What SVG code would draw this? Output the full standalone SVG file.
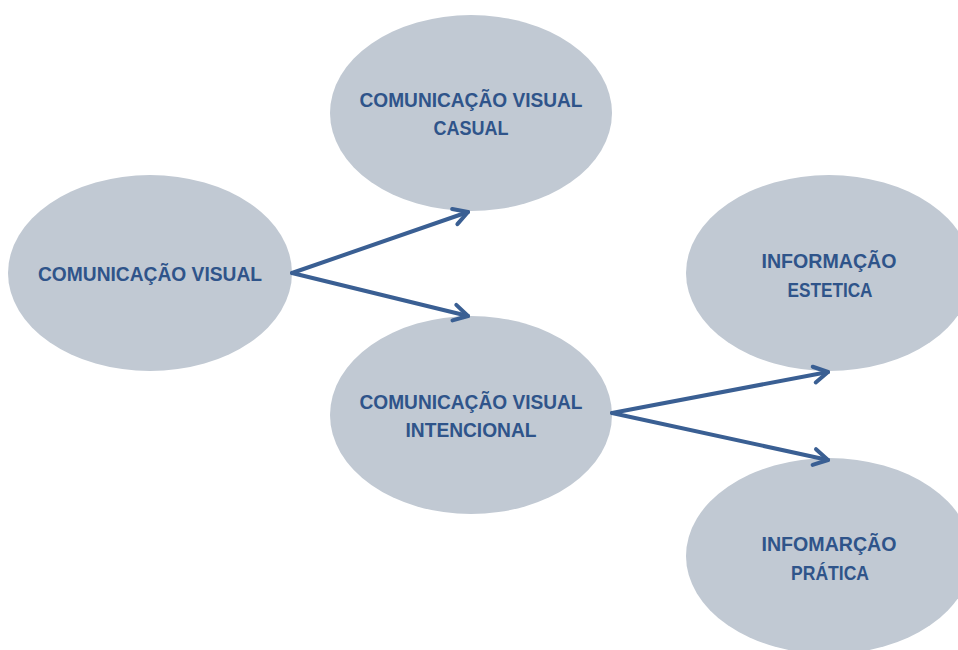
<svg xmlns="http://www.w3.org/2000/svg" width="958" height="650" viewBox="0 0 958 650">
<style>
.n{fill:#c1c9d3}
.t{font-family:"Liberation Sans",Arial,sans-serif;font-weight:bold;font-size:20px;fill:#2f548a;text-anchor:middle}
.c{stroke:#3a5f93;stroke-width:4;fill:none;stroke-linecap:round}
</style>
<defs>
<marker id="a" markerUnits="userSpaceOnUse" markerWidth="24" markerHeight="24" refX="20" refY="12" orient="auto" viewBox="0 0 24 24">
<polyline points="6,4 20,12 6,20" fill="none" stroke="#3a5f93" stroke-width="4" stroke-linecap="round" stroke-linejoin="round"/>
</marker>
</defs>
<rect width="958" height="650" fill="#fff"/>
<g id="n1"><ellipse class="n" cx="150" cy="273" rx="142" ry="98"/>
<text class="t" x="150" y="281" textLength="224" lengthAdjust="spacingAndGlyphs">COMUNICAÇÃO VISUAL</text></g>
<g id="n2"><ellipse class="n" cx="471" cy="113" rx="141" ry="98"/>
<text class="t" x="471" y="107" textLength="223" lengthAdjust="spacingAndGlyphs">COMUNICAÇÃO VISUAL</text>
<text class="t" x="471" y="135" textLength="75" lengthAdjust="spacingAndGlyphs">CASUAL</text></g>
<g id="n3"><ellipse class="n" cx="471" cy="415" rx="141" ry="99"/>
<text class="t" x="471" y="409" textLength="223" lengthAdjust="spacingAndGlyphs">COMUNICAÇÃO VISUAL</text>
<text class="t" x="471" y="437" textLength="131" lengthAdjust="spacingAndGlyphs">INTENCIONAL</text></g>
<g id="n4"><ellipse class="n" cx="829" cy="273" rx="143" ry="98"/>
<text class="t" x="829" y="268" textLength="135" lengthAdjust="spacingAndGlyphs">INFORMAÇÃO</text>
<text class="t" x="830" y="297" textLength="85" lengthAdjust="spacingAndGlyphs">ESTETICA</text></g>
<g id="n5"><ellipse class="n" cx="829" cy="556" rx="143" ry="98"/>
<text class="t" x="829" y="551" textLength="135" lengthAdjust="spacingAndGlyphs">INFOMARÇÃO</text>
<text class="t" x="830" y="580" textLength="78" lengthAdjust="spacingAndGlyphs">PRÁTICA</text></g>
<g id="connectors">
<line class="c" x1="292" y1="273" x2="468" y2="212" marker-end="url(#a)"/>
<line class="c" x1="292" y1="273" x2="468" y2="316" marker-end="url(#a)"/>
<line class="c" x1="612" y1="413" x2="828" y2="372" marker-end="url(#a)"/>
<line class="c" x1="612" y1="413" x2="828" y2="460" marker-end="url(#a)"/>
</g>
</svg>
